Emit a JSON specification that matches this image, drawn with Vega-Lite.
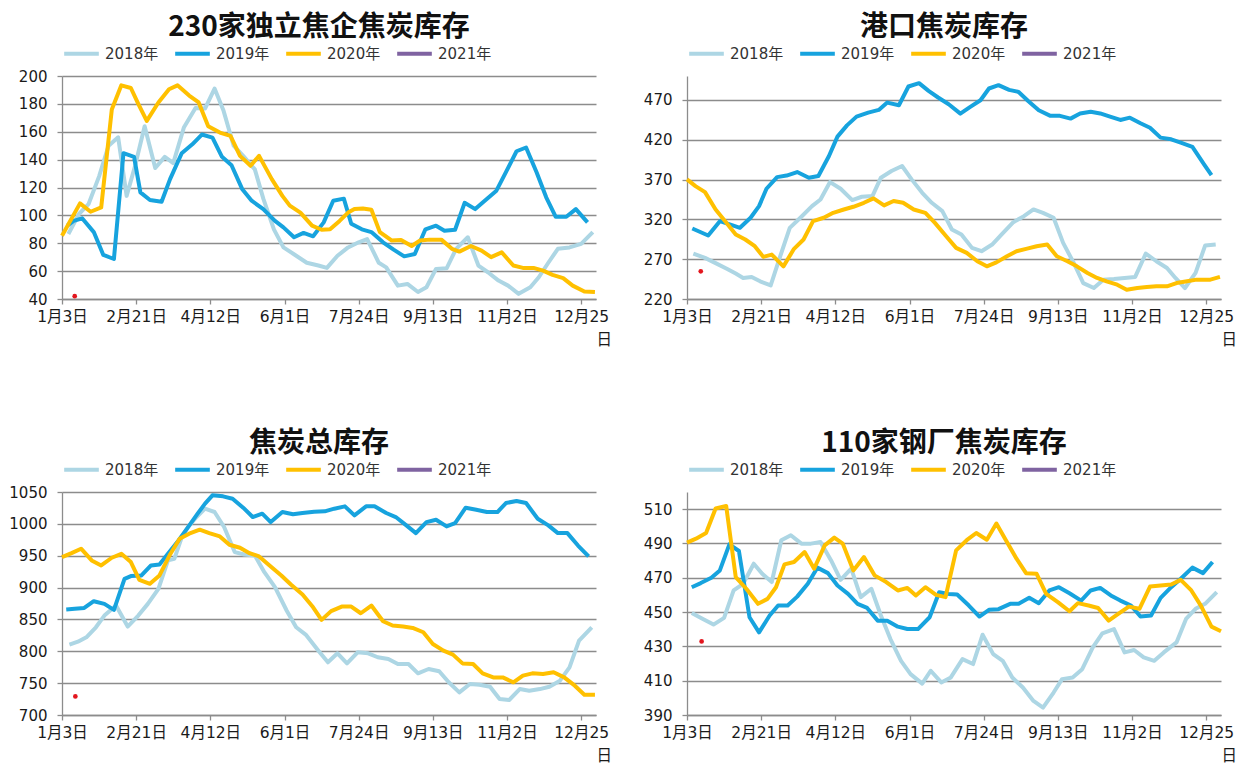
{
"$schema": "https://vega.github.io/schema/vega-lite/v6.json",
"background": "white",
"padding": {"left": 8, "top": 14, "right": 5, "bottom": 5},
"datasets": {
"tl": [
{"s":"2018年","w":0.6,"v":86.6},{"s":"2018年","w":1.6,"v":101},{"s":"2018年","w":2.5,"v":108},{"s":"2018年","w":3.5,"v":128},{"s":"2018年","w":4.4,"v":150},{"s":"2018年","w":5.3,"v":156},{"s":"2018年","w":6.1,"v":114},{"s":"2018年","w":6.9,"v":135.6},{"s":"2018年","w":7.8,"v":164},{"s":"2018年","w":8.8,"v":134},{"s":"2018年","w":9.7,"v":142},{"s":"2018年","w":10.5,"v":137.5},{"s":"2018年","w":11.5,"v":163},{"s":"2018年","w":12.6,"v":177},{"s":"2018年","w":13.5,"v":176.6},{"s":"2018年","w":14.4,"v":191},{"s":"2018年","w":15.25,"v":175},{"s":"2018年","w":16.2,"v":150},{"s":"2018年","w":17.1,"v":142.7},{"s":"2018年","w":18.2,"v":133},{"s":"2018年","w":19,"v":112},{"s":"2018年","w":20,"v":90},{"s":"2018年","w":20.9,"v":77},{"s":"2018年","w":22,"v":71.6},{"s":"2018年","w":23.1,"v":66},{"s":"2018年","w":24.2,"v":64},{"s":"2018年","w":25,"v":62.3},{"s":"2018年","w":26,"v":71},{"s":"2018年","w":27,"v":77},{"s":"2018年","w":28,"v":80.7},{"s":"2018年","w":28.8,"v":83},{"s":"2018年","w":29.9,"v":66},{"s":"2018年","w":30.6,"v":62.7},{"s":"2018年","w":31.7,"v":49.6},{"s":"2018年","w":32.6,"v":50.8},{"s":"2018年","w":33.6,"v":45},{"s":"2018年","w":34.4,"v":48.4},{"s":"2018年","w":35.3,"v":61.6},{"s":"2018年","w":36.3,"v":62},{"s":"2018年","w":37.2,"v":76},{"s":"2018年","w":38.3,"v":84.3},{"s":"2018年","w":39.3,"v":64},{"s":"2018年","w":40.2,"v":59.2},{"s":"2018年","w":41.2,"v":53.2},{"s":"2018年","w":42.1,"v":49.6},{"s":"2018年","w":43.1,"v":43.7},{"s":"2018年","w":44.2,"v":48.4},{"s":"2018年","w":45,"v":55.6},{"s":"2018年","w":45.9,"v":66},{"s":"2018年","w":46.8,"v":76},{"s":"2018年","w":47.9,"v":77},{"s":"2018年","w":49,"v":79.5},{"s":"2018年","w":50.1,"v":88},
{"s":"2019年","w":0.5,"v":92.6},{"s":"2019年","w":1.1,"v":96},{"s":"2019年","w":1.9,"v":97.9},{"s":"2019年","w":3,"v":88},{"s":"2019年","w":3.9,"v":71.6},{"s":"2019年","w":4.9,"v":68.7},{"s":"2019年","w":5.8,"v":144.6},{"s":"2019年","w":6.8,"v":142},{"s":"2019年","w":7.4,"v":116.5},{"s":"2019年","w":8.3,"v":111},{"s":"2019年","w":9.4,"v":109.8},{"s":"2019年","w":10.2,"v":126},{"s":"2019年","w":11.3,"v":144.6},{"s":"2019年","w":12.3,"v":151},{"s":"2019年","w":13.2,"v":158},{"s":"2019年","w":14.2,"v":155.8},{"s":"2019年","w":15.1,"v":142},{"s":"2019年","w":16,"v":136},{"s":"2019年","w":17,"v":119},{"s":"2019年","w":17.9,"v":110.5},{"s":"2019年","w":19,"v":104.5},{"s":"2019年","w":20.1,"v":96},{"s":"2019年","w":20.9,"v":91.4},{"s":"2019年","w":21.9,"v":84.3},{"s":"2019年","w":22.8,"v":87.4},{"s":"2019年","w":23.7,"v":85},{"s":"2019年","w":24.7,"v":95},{"s":"2019年","w":25.6,"v":110.5},{"s":"2019年","w":26.6,"v":112},{"s":"2019年","w":27.3,"v":94},{"s":"2019年","w":28.3,"v":90},{"s":"2019年","w":29.2,"v":88},{"s":"2019年","w":30.3,"v":80.7},{"s":"2019年","w":31.3,"v":75.4},{"s":"2019年","w":32.3,"v":70.6},{"s":"2019年","w":33.3,"v":72.3},{"s":"2019年","w":34.3,"v":90},{"s":"2019年","w":35.3,"v":92.6},{"s":"2019年","w":36.1,"v":89},{"s":"2019年","w":37.1,"v":89.7},{"s":"2019年","w":38,"v":109},{"s":"2019年","w":39,"v":104.5},{"s":"2019年","w":39.9,"v":110.5},{"s":"2019年","w":41,"v":117.7},{"s":"2019年","w":41.9,"v":131},{"s":"2019年","w":42.9,"v":146},{"s":"2019年","w":43.8,"v":148.7},{"s":"2019年","w":44.8,"v":130.8},{"s":"2019年","w":45.7,"v":113},{"s":"2019年","w":46.6,"v":99},{"s":"2019年","w":47.6,"v":99},{"s":"2019年","w":48.5,"v":104.5},{"s":"2019年","w":49.6,"v":95},
{"s":"2020年","w":0,"v":85.4},{"s":"2020年","w":1.7,"v":108.6},{"s":"2020年","w":2.7,"v":102.6},{"s":"2020年","w":3.7,"v":105.7},{"s":"2020年","w":4.7,"v":176},{"s":"2020年","w":5.6,"v":193.3},{"s":"2020年","w":6.5,"v":191.4},{"s":"2020年","w":7.2,"v":180},{"s":"2020年","w":8,"v":167.8},{"s":"2020年","w":9.1,"v":181},{"s":"2020年","w":10.1,"v":190.5},{"s":"2020年","w":10.9,"v":193.3},{"s":"2020年","w":12,"v":186},{"s":"2020年","w":12.9,"v":181},{"s":"2020年","w":13.8,"v":164},{"s":"2020年","w":14.9,"v":159.4},{"s":"2020年","w":15.9,"v":157},{"s":"2020年","w":16.8,"v":142.7},{"s":"2020年","w":17.8,"v":135.6},{"s":"2020年","w":18.6,"v":142.7},{"s":"2020年","w":19.8,"v":126},{"s":"2020年","w":20.8,"v":114},{"s":"2020年","w":21.5,"v":107},{"s":"2020年","w":22.5,"v":102},{"s":"2020年","w":23.6,"v":92.6},{"s":"2020年","w":24.5,"v":89.7},{"s":"2020年","w":25.3,"v":90},{"s":"2020年","w":26.2,"v":96},{"s":"2020年","w":27,"v":102},{"s":"2020年","w":27.6,"v":104.5},{"s":"2020年","w":28.4,"v":105},{"s":"2020年","w":29.2,"v":104},{"s":"2020年","w":30,"v":88},{"s":"2020年","w":31.1,"v":82},{"s":"2020年","w":32,"v":82.3},{"s":"2020年","w":33,"v":78},{"s":"2020年","w":33.8,"v":82},{"s":"2020年","w":34.7,"v":82.6},{"s":"2020年","w":35.8,"v":82.6},{"s":"2020年","w":36.8,"v":76},{"s":"2020年","w":37.5,"v":74},{"s":"2020年","w":38.6,"v":78},{"s":"2020年","w":39.6,"v":74.7},{"s":"2020年","w":40.5,"v":70},{"s":"2020年","w":41.5,"v":73.5},{"s":"2020年","w":42.6,"v":64},{"s":"2020年","w":43.5,"v":62.3},{"s":"2020年","w":44.5,"v":62.3},{"s":"2020年","w":45.4,"v":60.4},{"s":"2020年","w":46.3,"v":57.3},{"s":"2020年","w":47.3,"v":55},{"s":"2020年","w":48.2,"v":49.6},{"s":"2020年","w":49.3,"v":45.4},{"s":"2020年","w":50.3,"v":45}
],
"tr": [
{"s":"2018年","w":0.6,"v":277},{"s":"2018年","w":1.7,"v":271.6},{"s":"2018年","w":2.7,"v":265},{"s":"2018年","w":3.8,"v":257.7},{"s":"2018年","w":4.6,"v":251.9},{"s":"2018年","w":5.3,"v":246.4},{"s":"2018年","w":6.1,"v":247.7},{"s":"2018年","w":6.9,"v":242.2},{"s":"2018年","w":7.9,"v":237},{"s":"2018年","w":8.8,"v":273.7},{"s":"2018年","w":9.7,"v":309.3},{"s":"2018年","w":10.7,"v":322},{"s":"2018年","w":11.8,"v":336.6},{"s":"2018年","w":12.6,"v":345},{"s":"2018年","w":13.5,"v":366.8},{"s":"2018年","w":14.5,"v":358.4},{"s":"2018年","w":15.6,"v":344.2},{"s":"2018年","w":16.5,"v":348.4},{"s":"2018年","w":17.5,"v":349.2},{"s":"2018年","w":18.3,"v":372.3},{"s":"2018年","w":19.3,"v":380.7},{"s":"2018年","w":20.3,"v":387},{"s":"2018年","w":21.2,"v":370.2},{"s":"2018年","w":22.2,"v":353.4},{"s":"2018年","w":23.1,"v":340.8},{"s":"2018年","w":24.1,"v":330.3},{"s":"2018年","w":25,"v":307.3},{"s":"2018年","w":25.9,"v":301},{"s":"2018年","w":26.9,"v":284.2},{"s":"2018年","w":27.8,"v":280},{"s":"2018年","w":28.8,"v":288.4},{"s":"2018年","w":29.7,"v":301},{"s":"2018年","w":30.8,"v":316.5},{"s":"2018年","w":31.8,"v":324},{"s":"2018年","w":32.7,"v":332.4},{"s":"2018年","w":33.6,"v":328.2},{"s":"2018年","w":34.6,"v":322},{"s":"2018年","w":35.5,"v":290.5},{"s":"2018年","w":36.5,"v":265.3},{"s":"2018年","w":37.4,"v":240},{"s":"2018年","w":38.4,"v":233.8},{"s":"2018年","w":39.3,"v":244.3},{"s":"2018年","w":40.3,"v":245.2},{"s":"2018年","w":41.3,"v":246.4},{"s":"2018年","w":42.3,"v":247.7},{"s":"2018年","w":43.3,"v":277},{"s":"2018年","w":44.3,"v":267.4},{"s":"2018年","w":45.3,"v":259},{"s":"2018年","w":46.1,"v":246.4},{"s":"2018年","w":47,"v":233.8},{"s":"2018年","w":48,"v":252.7},{"s":"2018年","w":48.9,"v":287.1},{"s":"2018年","w":49.9,"v":288.4},
{"s":"2019年","w":0.5,"v":308.5},{"s":"2019年","w":2,"v":299.7},{"s":"2019年","w":3.1,"v":317.7},{"s":"2019年","w":4.1,"v":313.5},{"s":"2019年","w":5,"v":309.4},{"s":"2019年","w":6,"v":322},{"s":"2019年","w":6.8,"v":336.6},{"s":"2019年","w":7.5,"v":358.4},{"s":"2019年","w":8.5,"v":373},{"s":"2019年","w":9.4,"v":375},{"s":"2019年","w":10.4,"v":379.4},{"s":"2019年","w":11.5,"v":372.3},{"s":"2019年","w":12.4,"v":374.4},{"s":"2019年","w":13.4,"v":399.5},{"s":"2019年","w":14.2,"v":423.9},{"s":"2019年","w":15.1,"v":438},{"s":"2019年","w":16,"v":449},{"s":"2019年","w":17.1,"v":454},{"s":"2019年","w":18.1,"v":457.4},{"s":"2019年","w":18.9,"v":466.6},{"s":"2019年","w":20,"v":463.3},{"s":"2019年","w":20.9,"v":486.8},{"s":"2019年","w":21.9,"v":491},{"s":"2019年","w":22.8,"v":481.3},{"s":"2019年","w":23.7,"v":473},{"s":"2019年","w":24.7,"v":464.5},{"s":"2019年","w":25.8,"v":452.8},{"s":"2019年","w":26.7,"v":461},{"s":"2019年","w":27.7,"v":469.6},{"s":"2019年","w":28.5,"v":484.3},{"s":"2019年","w":29.4,"v":488.5},{"s":"2019年","w":30.4,"v":482.6},{"s":"2019年","w":31.3,"v":480},{"s":"2019年","w":32.2,"v":468.7},{"s":"2019年","w":33.2,"v":457},{"s":"2019年","w":34.3,"v":450},{"s":"2019年","w":35.2,"v":450},{"s":"2019年","w":36.2,"v":446.5},{"s":"2019年","w":37.1,"v":452.8},{"s":"2019年","w":38.1,"v":455},{"s":"2019年","w":39,"v":453},{"s":"2019年","w":40,"v":448.6},{"s":"2019年","w":40.9,"v":444.8},{"s":"2019年","w":41.8,"v":447.7},{"s":"2019年","w":42.8,"v":440.6},{"s":"2019年","w":43.7,"v":435},{"s":"2019年","w":44.7,"v":422.6},{"s":"2019年","w":45.7,"v":420.5},{"s":"2019年","w":46.6,"v":416.3},{"s":"2019年","w":47.7,"v":410.9},{"s":"2019年","w":48.8,"v":389},{"s":"2019年","w":49.5,"v":375.6},
{"s":"2020年","w":0,"v":370.2},{"s":"2020年","w":0.8,"v":361.8},{"s":"2020年","w":1.7,"v":354.2},{"s":"2020年","w":2.7,"v":332.4},{"s":"2020年","w":3.6,"v":317.7},{"s":"2020年","w":4.6,"v":301},{"s":"2020年","w":5.5,"v":294.7},{"s":"2020年","w":6.4,"v":286.3},{"s":"2020年","w":7.2,"v":272.9},{"s":"2020年","w":8,"v":275.8},{"s":"2020年","w":9.1,"v":261},{"s":"2020年","w":10.1,"v":283},{"s":"2020年","w":11,"v":294.7},{"s":"2020年","w":11.9,"v":317.7},{"s":"2020年","w":12.9,"v":322},{"s":"2020年","w":13.8,"v":328.2},{"s":"2020年","w":14.8,"v":332.4},{"s":"2020年","w":15.7,"v":335.8},{"s":"2020年","w":16.7,"v":340.8},{"s":"2020年","w":17.6,"v":346.3},{"s":"2020年","w":18.6,"v":337.5},{"s":"2020年","w":19.5,"v":343},{"s":"2020年","w":20.4,"v":340.8},{"s":"2020年","w":21.4,"v":332.4},{"s":"2020年","w":22.5,"v":328.2},{"s":"2020年","w":23.4,"v":315.6},{"s":"2020年","w":24.4,"v":299.7},{"s":"2020年","w":25.4,"v":284.2},{"s":"2020年","w":26.4,"v":277.9},{"s":"2020年","w":27.4,"v":267.4},{"s":"2020年","w":28.3,"v":261},{"s":"2020年","w":29.2,"v":266},{"s":"2020年","w":30.2,"v":273.7},{"s":"2020年","w":31.1,"v":280},{"s":"2020年","w":32.1,"v":283.3},{"s":"2020年","w":33,"v":286.3},{"s":"2020年","w":34,"v":288.4},{"s":"2020年","w":34.9,"v":273.7},{"s":"2020年","w":35.9,"v":267.4},{"s":"2020年","w":36.8,"v":261},{"s":"2020年","w":37.8,"v":252.7},{"s":"2020年","w":38.7,"v":246.4},{"s":"2020年","w":39.6,"v":242.2},{"s":"2020年","w":40.6,"v":238},{"s":"2020年","w":41.5,"v":231.7},{"s":"2020年","w":42.5,"v":233.8},{"s":"2020年","w":43.4,"v":235},{"s":"2020年","w":44.3,"v":235.9},{"s":"2020年","w":45.3,"v":235.9},{"s":"2020年","w":46.2,"v":240},{"s":"2020年","w":47.2,"v":242.2},{"s":"2020年","w":48.1,"v":244.3},{"s":"2020年","w":49.4,"v":244.3},{"s":"2020年","w":50.3,"v":247.7}
],
"bl": [
{"s":"2018年","w":0.7,"v":810.5},{"s":"2018年","w":1.5,"v":815},{"s":"2018年","w":2.3,"v":822},{"s":"2018年","w":3.2,"v":837.7},{"s":"2018年","w":4,"v":856},{"s":"2018年","w":5.1,"v":872},{"s":"2018年","w":6.2,"v":838.8},{"s":"2018年","w":7.2,"v":856},{"s":"2018年","w":8.1,"v":874.4},{"s":"2018年","w":9.1,"v":898},{"s":"2018年","w":10,"v":942.6},{"s":"2018年","w":10.6,"v":945},{"s":"2018年","w":11.3,"v":979},{"s":"2018年","w":11.9,"v":995},{"s":"2018年","w":12.7,"v":1010.7},{"s":"2018年","w":13.5,"v":1023.8},{"s":"2018年","w":14.4,"v":1018.6},{"s":"2018年","w":15.3,"v":995},{"s":"2018年","w":16.3,"v":955.7},{"s":"2018年","w":17.2,"v":952},{"s":"2018年","w":18.2,"v":950.4},{"s":"2018年","w":19.1,"v":924.2},{"s":"2018年","w":20.1,"v":900.6},{"s":"2018年","w":21.2,"v":864},{"s":"2018年","w":22.1,"v":837.7},{"s":"2018年","w":23,"v":826.2},{"s":"2018年","w":24.2,"v":801},{"s":"2018年","w":25.1,"v":782.7},{"s":"2018年","w":26,"v":796.8},{"s":"2018年","w":26.9,"v":781},{"s":"2018年","w":27.9,"v":798.4},{"s":"2018年","w":28.9,"v":796.8},{"s":"2018年","w":29.8,"v":790.6},{"s":"2018年","w":30.8,"v":788},{"s":"2018年","w":31.7,"v":780},{"s":"2018年","w":32.7,"v":780},{"s":"2018年","w":33.6,"v":765.4},{"s":"2018年","w":34.6,"v":772.2},{"s":"2018年","w":35.6,"v":768.6},{"s":"2018年","w":36.5,"v":751.3},{"s":"2018年","w":37.5,"v":735.5},{"s":"2018年","w":38.5,"v":748.6},{"s":"2018年","w":39.4,"v":747.6},{"s":"2018年","w":40.4,"v":744.4},{"s":"2018年","w":41.3,"v":725},{"s":"2018年","w":42.2,"v":723.5},{"s":"2018年","w":43.2,"v":740.7},{"s":"2018年","w":44.1,"v":738},{"s":"2018年","w":45.1,"v":740.7},{"s":"2018年","w":46,"v":744.4},{"s":"2018年","w":47,"v":753.9},{"s":"2018年","w":47.9,"v":774.8},{"s":"2018年","w":48.8,"v":816.8},{"s":"2018年","w":50,"v":837.7},
{"s":"2019年","w":0.4,"v":865.5},{"s":"2019年","w":1.2,"v":866.6},{"s":"2019年","w":2.1,"v":868},{"s":"2019年","w":3,"v":878.6},{"s":"2019年","w":4,"v":874.4},{"s":"2019年","w":4.9,"v":865},{"s":"2019年","w":5.9,"v":913.7},{"s":"2019年","w":6.5,"v":918},{"s":"2019年","w":7.5,"v":919},{"s":"2019年","w":8.4,"v":934.7},{"s":"2019年","w":9.2,"v":936.3},{"s":"2019年","w":10,"v":953},{"s":"2019年","w":11,"v":974},{"s":"2019年","w":11.9,"v":995},{"s":"2019年","w":12.8,"v":1016},{"s":"2019年","w":13.5,"v":1031.7},{"s":"2019年","w":14.2,"v":1044.8},{"s":"2019年","w":15.2,"v":1043.2},{"s":"2019年","w":16.1,"v":1039.5},{"s":"2019年","w":17.1,"v":1025.4},{"s":"2019年","w":18,"v":1010.7},{"s":"2019年","w":18.9,"v":1016},{"s":"2019年","w":19.7,"v":1002.8},{"s":"2019年","w":20.8,"v":1018.6},{"s":"2019年","w":21.8,"v":1015},{"s":"2019年","w":22.7,"v":1017},{"s":"2019年","w":23.8,"v":1019},{"s":"2019年","w":24.8,"v":1019.6},{"s":"2019年","w":25.7,"v":1023.8},{"s":"2019年","w":26.7,"v":1027.5},{"s":"2019年","w":27.6,"v":1013.3},{"s":"2019年","w":28.7,"v":1027.5},{"s":"2019年","w":29.5,"v":1027.5},{"s":"2019年","w":30.6,"v":1017},{"s":"2019年","w":31.5,"v":1010.7},{"s":"2019年","w":32.5,"v":997.6},{"s":"2019年","w":33.4,"v":985.5},{"s":"2019年","w":34.4,"v":1002.8},{"s":"2019年","w":35.3,"v":1006.5},{"s":"2019年","w":36.3,"v":996},{"s":"2019年","w":37.1,"v":1001},{"s":"2019年","w":38.1,"v":1025.4},{"s":"2019年","w":39.1,"v":1022.2},{"s":"2019年","w":40.1,"v":1018.6},{"s":"2019年","w":41.1,"v":1018.6},{"s":"2019年","w":41.9,"v":1032.7},{"s":"2019年","w":42.9,"v":1035.8},{"s":"2019年","w":43.8,"v":1032.7},{"s":"2019年","w":44.9,"v":1008},{"s":"2019年","w":45.9,"v":997.6},{"s":"2019年","w":46.8,"v":985.5},{"s":"2019年","w":47.7,"v":985.5},{"s":"2019年","w":48.7,"v":966},{"s":"2019年","w":49.7,"v":948.8},
{"s":"2020年","w":0,"v":947.8},{"s":"2020年","w":0.9,"v":954},{"s":"2020年","w":1.8,"v":961},{"s":"2020年","w":2.8,"v":942.6},{"s":"2020年","w":3.7,"v":934.7},{"s":"2020年","w":4.7,"v":946.8},{"s":"2020年","w":5.6,"v":953},{"s":"2020年","w":6.5,"v":940},{"s":"2020年","w":7.3,"v":912.2},{"s":"2020年","w":8.3,"v":905.9},{"s":"2020年","w":9.2,"v":919},{"s":"2020年","w":10.2,"v":952},{"s":"2020年","w":11.1,"v":976.6},{"s":"2020年","w":12,"v":984.5},{"s":"2020年","w":13,"v":990.8},{"s":"2020年","w":13.9,"v":985.5},{"s":"2020年","w":14.9,"v":980.3},{"s":"2020年","w":15.8,"v":967.2},{"s":"2020年","w":16.8,"v":962.5},{"s":"2020年","w":17.7,"v":954},{"s":"2020年","w":18.6,"v":948.8},{"s":"2020年","w":19.7,"v":933.1},{"s":"2020年","w":20.7,"v":919},{"s":"2020年","w":21.6,"v":904.8},{"s":"2020年","w":22.7,"v":889},{"s":"2020年","w":23.7,"v":869},{"s":"2020年","w":24.5,"v":849.3},{"s":"2020年","w":25.4,"v":863},{"s":"2020年","w":26.4,"v":870.2},{"s":"2020年","w":27.3,"v":870.2},{"s":"2020年","w":28.2,"v":859.7},{"s":"2020年","w":29.2,"v":871.8},{"s":"2020年","w":30.3,"v":847.2},{"s":"2020年","w":31.2,"v":840.4},{"s":"2020年","w":32.2,"v":838.8},{"s":"2020年","w":33.1,"v":836.7},{"s":"2020年","w":34.1,"v":829.9},{"s":"2020年","w":35,"v":811.5},{"s":"2020年","w":36,"v":801},{"s":"2020年","w":36.9,"v":794.8},{"s":"2020年","w":37.8,"v":781},{"s":"2020年","w":38.8,"v":780},{"s":"2020年","w":39.7,"v":765.4},{"s":"2020年","w":40.7,"v":759},{"s":"2020年","w":41.6,"v":759},{"s":"2020年","w":42.6,"v":751.3},{"s":"2020年","w":43.5,"v":761.8},{"s":"2020年","w":44.4,"v":765.4},{"s":"2020年","w":45.4,"v":764.4},{"s":"2020年","w":46.4,"v":767},{"s":"2020年","w":47.4,"v":759},{"s":"2020年","w":48.4,"v":746},{"s":"2020年","w":49.3,"v":731.9},{"s":"2020年","w":50.3,"v":731.9}
],
"br": [
{"s":"2018年","w":0.45,"v":449.5},{"s":"2018年","w":1.5,"v":446},{"s":"2018年","w":2.5,"v":442.7},{"s":"2018年","w":3.5,"v":446.6},{"s":"2018年","w":4.4,"v":462.6},{"s":"2018年","w":5.3,"v":466.5},{"s":"2018年","w":6.3,"v":478.2},{"s":"2018年","w":7.1,"v":472.3},{"s":"2018年","w":8,"v":467.5},{"s":"2018年","w":8.9,"v":491.9},{"s":"2018年","w":9.8,"v":494.8},{"s":"2018年","w":10.8,"v":489.9},{"s":"2018年","w":11.7,"v":489.9},{"s":"2018年","w":12.6,"v":490.9},{"s":"2018年","w":13.6,"v":480.1},{"s":"2018年","w":14.5,"v":468.8},{"s":"2018年","w":15.5,"v":475.3},{"s":"2018年","w":16.4,"v":458.7},{"s":"2018年","w":17.4,"v":463.6},{"s":"2018年","w":18.3,"v":448},{"s":"2018年","w":19.2,"v":434.3},{"s":"2018年","w":20.2,"v":421.6},{"s":"2018年","w":21.1,"v":413.8},{"s":"2018年","w":22.2,"v":408.3},{"s":"2018年","w":23,"v":415.8},{"s":"2018年","w":24,"v":409},{"s":"2018年","w":24.9,"v":411.9},{"s":"2018年","w":26,"v":422.6},{"s":"2018年","w":27,"v":419.7},{"s":"2018年","w":27.9,"v":436.8},{"s":"2018年","w":28.9,"v":425.5},{"s":"2018年","w":29.8,"v":421.6},{"s":"2018年","w":30.7,"v":411.9},{"s":"2018年","w":31.7,"v":406},{"s":"2018年","w":32.7,"v":398.2},{"s":"2018年","w":33.6,"v":394.3},{"s":"2018年","w":34.6,"v":403.1},{"s":"2018年","w":35.4,"v":410.9},{"s":"2018年","w":36.4,"v":411.9},{"s":"2018年","w":37.3,"v":416.7},{"s":"2018年","w":38.3,"v":429.4},{"s":"2018年","w":39.2,"v":437.6},{"s":"2018年","w":40.3,"v":440.1},{"s":"2018年","w":41.3,"v":426.5},{"s":"2018年","w":42.2,"v":427.9},{"s":"2018年","w":43.1,"v":423.6},{"s":"2018年","w":44.1,"v":421.6},{"s":"2018年","w":45,"v":426.5},{"s":"2018年","w":46.2,"v":432.3},{"s":"2018年","w":47.1,"v":446},{"s":"2018年","w":48,"v":451.9},{"s":"2018年","w":48.9,"v":454.8},{"s":"2018年","w":50,"v":461.6},
{"s":"2019年","w":0.45,"v":464.5},{"s":"2019年","w":1.3,"v":466.9},{"s":"2019年","w":2.3,"v":470},{"s":"2019年","w":3.1,"v":474.3},{"s":"2019年","w":4,"v":489.5},{"s":"2019年","w":4.9,"v":485.6},{"s":"2019年","w":5.9,"v":447},{"s":"2019年","w":6.8,"v":438.2},{"s":"2019年","w":7.8,"v":448},{"s":"2019年","w":8.6,"v":453.8},{"s":"2019年","w":9.5,"v":453.8},{"s":"2019年","w":10.4,"v":459},{"s":"2019年","w":11.4,"v":466.5},{"s":"2019年","w":12.3,"v":475.9},{"s":"2019年","w":13.3,"v":472.7},{"s":"2019年","w":14.2,"v":465.5},{"s":"2019年","w":15.2,"v":460.6},{"s":"2019年","w":16.1,"v":454.8},{"s":"2019年","w":17,"v":452.4},{"s":"2019年","w":18,"v":445},{"s":"2019年","w":18.9,"v":445},{"s":"2019年","w":19.9,"v":441.5},{"s":"2019年","w":20.8,"v":440.1},{"s":"2019年","w":21.8,"v":440.1},{"s":"2019年","w":22.9,"v":447},{"s":"2019年","w":23.8,"v":461.6},{"s":"2019年","w":24.7,"v":460.6},{"s":"2019年","w":25.5,"v":460.2},{"s":"2019年","w":26.6,"v":453.8},{"s":"2019年","w":27.6,"v":447.4},{"s":"2019年","w":28.5,"v":451.3},{"s":"2019年","w":29.4,"v":451.7},{"s":"2019年","w":30.5,"v":454.8},{"s":"2019年","w":31.3,"v":454.8},{"s":"2019年","w":32.3,"v":458.3},{"s":"2019年","w":33.2,"v":455.2},{"s":"2019年","w":34.2,"v":462.6},{"s":"2019年","w":35.1,"v":464.5},{"s":"2019年","w":36.1,"v":461},{"s":"2019年","w":37.2,"v":456.7},{"s":"2019年","w":38.1,"v":462.6},{"s":"2019年","w":39,"v":464.1},{"s":"2019年","w":40,"v":459.7},{"s":"2019年","w":40.9,"v":456.7},{"s":"2019年","w":41.9,"v":453.8},{"s":"2019年","w":42.8,"v":447.4},{"s":"2019年","w":43.8,"v":448},{"s":"2019年","w":44.7,"v":458.3},{"s":"2019年","w":45.7,"v":464.5},{"s":"2019年","w":46.6,"v":469.4},{"s":"2019年","w":47.7,"v":475.9},{"s":"2019年","w":48.7,"v":472.7},{"s":"2019年","w":49.6,"v":479.2},
{"s":"2020年","w":0,"v":490.5},{"s":"2020年","w":0.85,"v":492.8},{"s":"2020年","w":1.8,"v":496.1},{"s":"2020年","w":2.7,"v":510.4},{"s":"2020年","w":3.7,"v":511.8},{"s":"2020年","w":4.6,"v":470.4},{"s":"2020年","w":5.6,"v":463.6},{"s":"2020年","w":6.7,"v":454.8},{"s":"2020年","w":7.6,"v":457.7},{"s":"2020年","w":8.4,"v":464.5},{"s":"2020年","w":9.2,"v":477.8},{"s":"2020年","w":10.1,"v":479.2},{"s":"2020年","w":11.1,"v":485},{"s":"2020年","w":12,"v":475.3},{"s":"2020年","w":13,"v":488.9},{"s":"2020年","w":13.9,"v":493.4},{"s":"2020年","w":14.7,"v":489.9},{"s":"2020年","w":15.7,"v":474.3},{"s":"2020年","w":16.7,"v":482.1},{"s":"2020年","w":17.7,"v":471.4},{"s":"2020年","w":18.8,"v":467.5},{"s":"2020年","w":19.9,"v":462.6},{"s":"2020年","w":20.8,"v":464.1},{"s":"2020年","w":21.6,"v":459.7},{"s":"2020年","w":22.5,"v":464.5},{"s":"2020年","w":23.5,"v":460},{"s":"2020年","w":24.4,"v":458.7},{"s":"2020年","w":25.4,"v":486},{"s":"2020年","w":26.4,"v":491.9},{"s":"2020年","w":27.3,"v":496.1},{"s":"2020年","w":28.3,"v":492.2},{"s":"2020年","w":29.2,"v":501.6},{"s":"2020年","w":30.1,"v":491.9},{"s":"2020年","w":31.1,"v":481.1},{"s":"2020年","w":32,"v":472.7},{"s":"2020年","w":33,"v":472.3},{"s":"2020年","w":33.9,"v":460.6},{"s":"2020年","w":35,"v":455.8},{"s":"2020年","w":36.1,"v":450.5},{"s":"2020年","w":36.9,"v":455.2},{"s":"2020年","w":37.9,"v":453.8},{"s":"2020年","w":38.8,"v":452.4},{"s":"2020年","w":39.8,"v":445},{"s":"2020年","w":40.7,"v":448.9},{"s":"2020年","w":41.7,"v":453.2},{"s":"2020年","w":42.7,"v":451.9},{"s":"2020年","w":43.7,"v":464.9},{"s":"2020年","w":44.7,"v":465.5},{"s":"2020年","w":45.7,"v":466.1},{"s":"2020年","w":46.6,"v":468.8},{"s":"2020年","w":47.6,"v":462.6},{"s":"2020年","w":48.5,"v":453.8},{"s":"2020年","w":49.5,"v":441.5},{"s":"2020年","w":50.4,"v":438.8}
]
},
"concat": [
{
"width": 534, "height": 223,
"title": "230家独立焦企焦炭库存",
"layer": [
{"data": {"name": "tl"}, "mark": {"type": "line", "strokeWidth": 4, "strokeJoin": "round"},
"encoding": {
"x": {"field": "w", "type": "quantitative", "scale": {"domain": [0, 50.4], "nice": false, "zero": false}, "axis": {"title": null, "values": [0,7,14,21,28,35,42,49], "tickCount": 20, "labelExpr": "datum.value == 0 ? '1月3日' : datum.value == 7 ? '2月21日' : datum.value == 14 ? '4月12日' : datum.value == 21 ? '6月1日' : datum.value == 28 ? '7月24日' : datum.value == 35 ? '9月13日' : datum.value == 42 ? '11月2日' : ['12月25', '\u2800\u2800\u2800\u2800日']"}},
"y": {"field": "v", "type": "quantitative", "scale": {"domain": [40, 200], "nice": false, "zero": false}, "axis": {"title": null, "values": [40,60,80,100,120,140,160,180,200], "tickCount": 20, "format": "d", "grid": true}},
"color": {"field": "s", "type": "nominal", "scale": {"domain": ["2018年","2019年","2020年","2021年"], "range": ["#ADD6E4","#17A3DE","#FFC000","#7F63A1"]}, "legend": {"title": null}}
}},
{"data": {"values": [{"w": 1.2, "v": 42}]}, "mark": {"type": "circle", "color": "#E3161E", "size": 22, "opacity": 1}, "encoding": {"x": {"field": "w", "type": "quantitative"}, "y": {"field": "v", "type": "quantitative"}}}
]
},
{
"width": 534, "height": 223,
"title": "港口焦炭库存",
"layer": [
{"data": {"name": "tr"}, "mark": {"type": "line", "strokeWidth": 4, "strokeJoin": "round"},
"encoding": {
"x": {"field": "w", "type": "quantitative", "scale": {"domain": [0, 50.4], "nice": false, "zero": false}, "axis": {"title": null, "values": [0,7,14,21,28,35,42,49], "tickCount": 20, "labelExpr": "datum.value == 0 ? '1月3日' : datum.value == 7 ? '2月21日' : datum.value == 14 ? '4月12日' : datum.value == 21 ? '6月1日' : datum.value == 28 ? '7月24日' : datum.value == 35 ? '9月13日' : datum.value == 42 ? '11月2日' : ['12月25', '\u2800\u2800\u2800\u2800日']"}},
"y": {"field": "v", "type": "quantitative", "scale": {"domain": [220, 500], "nice": false, "zero": false}, "axis": {"title": null, "values": [220,270,320,370,420,470], "tickCount": 20, "format": "d", "grid": true}},
"color": {"field": "s", "type": "nominal", "scale": {"domain": ["2018年","2019年","2020年","2021年"], "range": ["#ADD6E4","#17A3DE","#FFC000","#7F63A1"]}, "legend": {"title": null}}
}},
{"data": {"values": [{"w": 1.3, "v": 254.8}]}, "mark": {"type": "circle", "color": "#E3161E", "size": 22, "opacity": 1}, "encoding": {"x": {"field": "w", "type": "quantitative"}, "y": {"field": "v", "type": "quantitative"}}}
]
},
{
"width": 534, "height": 223,
"title": "焦炭总库存",
"layer": [
{"data": {"name": "bl"}, "mark": {"type": "line", "strokeWidth": 4, "strokeJoin": "round"},
"encoding": {
"x": {"field": "w", "type": "quantitative", "scale": {"domain": [0, 50.4], "nice": false, "zero": false}, "axis": {"title": null, "values": [0,7,14,21,28,35,42,49], "tickCount": 20, "labelExpr": "datum.value == 0 ? '1月3日' : datum.value == 7 ? '2月21日' : datum.value == 14 ? '4月12日' : datum.value == 21 ? '6月1日' : datum.value == 28 ? '7月24日' : datum.value == 35 ? '9月13日' : datum.value == 42 ? '11月2日' : ['12月25', '\u2800\u2800\u2800\u2800日']"}},
"y": {"field": "v", "type": "quantitative", "scale": {"domain": [700, 1050], "nice": false, "zero": false}, "axis": {"title": null, "values": [700,750,800,850,900,950,1000,1050], "tickCount": 20, "format": "d", "grid": true}},
"color": {"field": "s", "type": "nominal", "scale": {"domain": ["2018年","2019年","2020年","2021年"], "range": ["#ADD6E4","#17A3DE","#FFC000","#7F63A1"]}, "legend": {"title": null}}
}},
{"data": {"values": [{"w": 1.26, "v": 729.2}]}, "mark": {"type": "circle", "color": "#E3161E", "size": 22, "opacity": 1}, "encoding": {"x": {"field": "w", "type": "quantitative"}, "y": {"field": "v", "type": "quantitative"}}}
]
},
{
"width": 534, "height": 223,
"title": "110家钢厂焦炭库存",
"layer": [
{"data": {"name": "br"}, "mark": {"type": "line", "strokeWidth": 4, "strokeJoin": "round"},
"encoding": {
"x": {"field": "w", "type": "quantitative", "scale": {"domain": [0, 50.4], "nice": false, "zero": false}, "axis": {"title": null, "values": [0,7,14,21,28,35,42,49], "tickCount": 20, "labelExpr": "datum.value == 0 ? '1月3日' : datum.value == 7 ? '2月21日' : datum.value == 14 ? '4月12日' : datum.value == 21 ? '6月1日' : datum.value == 28 ? '7月24日' : datum.value == 35 ? '9月13日' : datum.value == 42 ? '11月2日' : ['12月25', '\u2800\u2800\u2800\u2800日']"}},
"y": {"field": "v", "type": "quantitative", "scale": {"domain": [390, 520], "nice": false, "zero": false}, "axis": {"title": null, "values": [390,410,430,450,470,490,510], "tickCount": 20, "format": "d", "grid": true}},
"color": {"field": "s", "type": "nominal", "scale": {"domain": ["2018年","2019年","2020年","2021年"], "range": ["#ADD6E4","#17A3DE","#FFC000","#7F63A1"]}, "legend": {"title": null}}
}},
{"data": {"values": [{"w": 1.38, "v": 432.9}]}, "mark": {"type": "circle", "color": "#E3161E", "size": 22, "opacity": 1}, "encoding": {"x": {"field": "w", "type": "quantitative"}, "y": {"field": "v", "type": "quantitative"}}}
]
}
],
"columns": 2,
"spacing": {"row": 193, "column": 91},
"bounds": "flush",
"resolve": {"scale": {"x": "independent", "y": "independent"}, "legend": {"color": "independent"}},
"config": {
"font": "Noto Sans CJK SC",
"view": {"stroke": null},
"axis": {"labelFont": "DejaVu Sans, Noto Sans CJK SC", "labelColor": "#1a1a1a", "labelFontSize": 15, "domainColor": "#8c8c8c", "tickColor": "#8c8c8c", "gridColor": "#8c8c8c", "domainWidth": 1.3, "tickWidth": 1.3, "gridWidth": 1.3, "tickSize": 5, "labelPadding": 10, "labelFlush": false, "labelBound": false, "labelOverlap": false},
"axisX": {"grid": false, "labelFontSize": 15.5, "labelLineHeight": 23, "labelPadding": 5},
"legend": {"orient": "top", "direction": "horizontal", "symbolType": "stroke", "symbolSize": 1200, "symbolStrokeWidth": 4, "labelFont": "DejaVu Sans, Noto Sans CJK SC", "labelFontSize": 15, "labelColor": "#333333", "labelOffset": 4, "columnPadding": 8, "offset": 14, "padding": 0},
"title": {"font": "Noto Sans CJK SC", "fontSize": 28, "fontWeight": "bold", "color": "#111111", "anchor": "middle", "frame": "group", "dx": -10, "offset": -8}
}
}
